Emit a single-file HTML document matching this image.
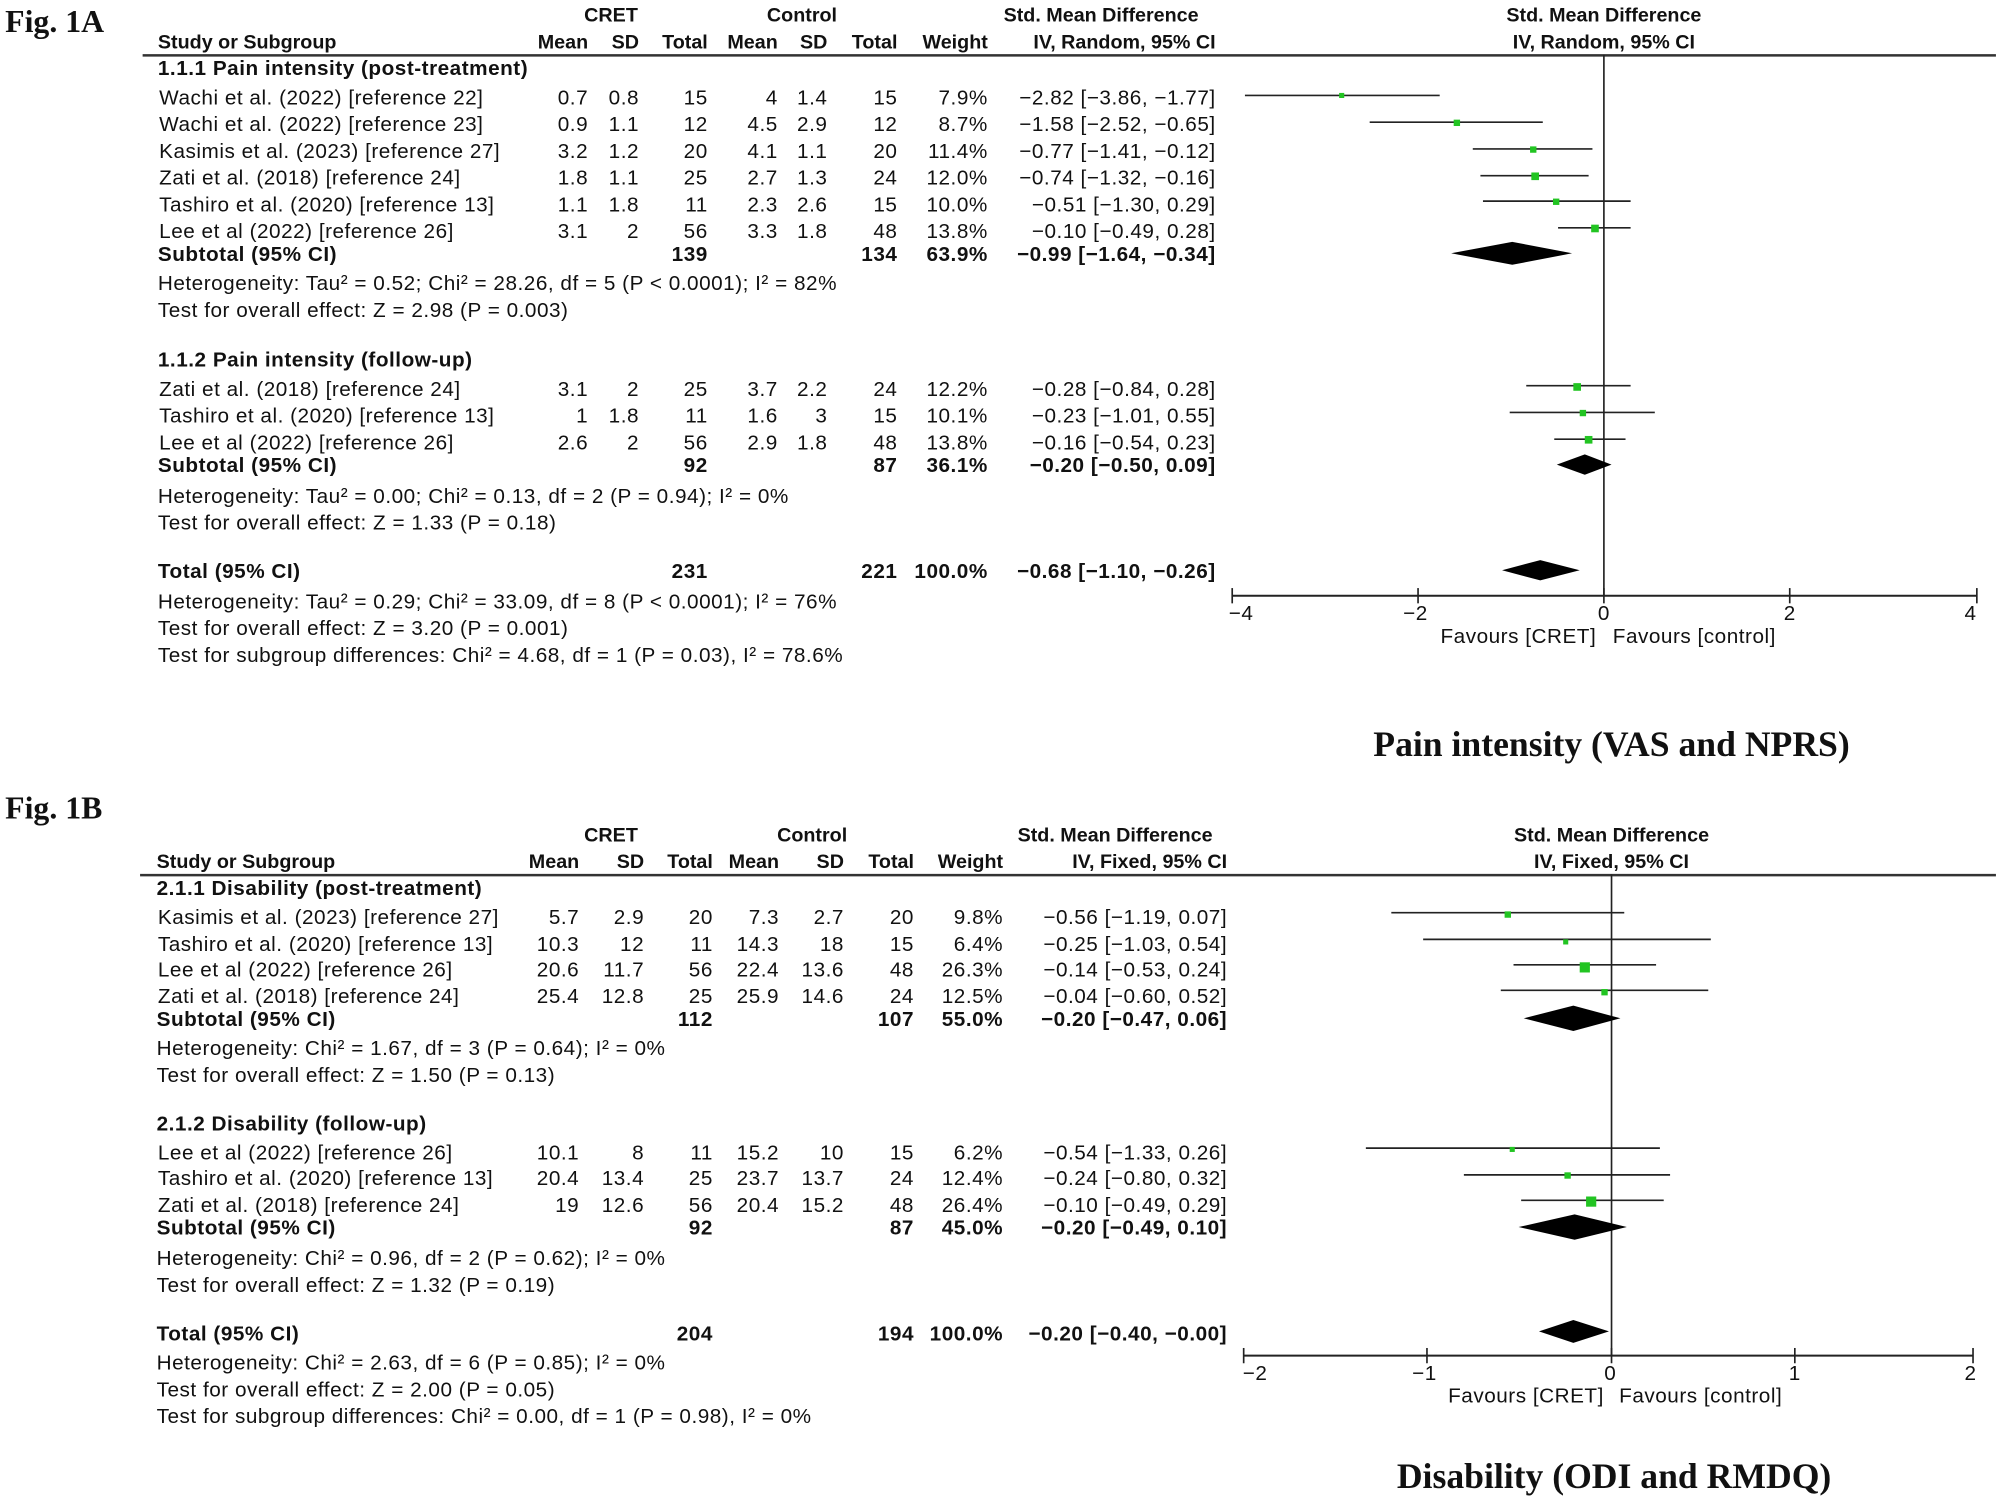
<!DOCTYPE html>
<html><head><meta charset="utf-8"><style>
html,body{margin:0;padding:0;background:#fff;}
svg{display:block;}
text{font-family:"Liberation Sans Narrow","Liberation Sans",sans-serif;font-size:16.3px;letter-spacing:0.4px;fill:#111;}
.h{font-size:15.5px;letter-spacing:0;}
.b{font-weight:bold;}
.e{text-anchor:end;}
.m{text-anchor:middle;}
.t{font-family:"Liberation Serif",serif;font-weight:bold;font-size:28px;letter-spacing:0;}
.f{font-family:"Liberation Serif",serif;font-weight:bold;font-size:25px;letter-spacing:0;}
</style></head><body>
<svg width="1996" height="1502" viewBox="0 0 1568 1180" xmlns="http://www.w3.org/2000/svg">
<!-- ================= FIG 1A ================= -->
<text x="4" y="25" class="f">Fig. 1A</text>
<text x="480" y="17" class="b m h">CRET</text>
<text x="630" y="17" class="b m h">Control</text>
<text x="865" y="17" class="b m h">Std. Mean Difference</text>
<text x="1260" y="17" class="b m h">Std. Mean Difference</text>
<text x="124" y="38" class="b h">Study or Subgroup</text>
<text x="462" y="38" class="b e h">Mean</text>
<text x="502" y="38" class="b e h">SD</text>
<text x="556" y="38" class="b e h">Total</text>
<text x="611" y="38" class="b e h">Mean</text>
<text x="650" y="38" class="b e h">SD</text>
<text x="705" y="38" class="b e h">Total</text>
<text x="776" y="38" class="b e h">Weight</text>
<text x="955" y="38" class="b e h">IV, Random, 95% CI</text>
<text x="1260" y="38" class="b m h">IV, Random, 95% CI</text>
<line x1="112" y1="43.5" x2="1568" y2="43.5" stroke="#333" stroke-width="2"/>
<text x="124" y="59" class="b">1.1.1 Pain intensity (post-treatment)</text>
<g>
<text x="125" y="82">Wachi et al. (2022) [reference 22]</text><text x="462" y="82" class="e">0.7</text><text x="502" y="82" class="e">0.8</text><text x="556" y="82" class="e">15</text><text x="611" y="82" class="e">4</text><text x="650" y="82" class="e">1.4</text><text x="705" y="82" class="e">15</text><text x="776" y="82" class="e">7.9%</text><text x="955" y="82" class="e">−2.82 [−3.86, −1.77]</text>
<text x="125" y="103">Wachi et al. (2022) [reference 23]</text><text x="462" y="103" class="e">0.9</text><text x="502" y="103" class="e">1.1</text><text x="556" y="103" class="e">12</text><text x="611" y="103" class="e">4.5</text><text x="650" y="103" class="e">2.9</text><text x="705" y="103" class="e">12</text><text x="776" y="103" class="e">8.7%</text><text x="955" y="103" class="e">−1.58 [−2.52, −0.65]</text>
<text x="125" y="124">Kasimis et al. (2023) [reference 27]</text><text x="462" y="124" class="e">3.2</text><text x="502" y="124" class="e">1.2</text><text x="556" y="124" class="e">20</text><text x="611" y="124" class="e">4.1</text><text x="650" y="124" class="e">1.1</text><text x="705" y="124" class="e">20</text><text x="776" y="124" class="e">11.4%</text><text x="955" y="124" class="e">−0.77 [−1.41, −0.12]</text>
<text x="125" y="145">Zati et al. (2018) [reference 24]</text><text x="462" y="145" class="e">1.8</text><text x="502" y="145" class="e">1.1</text><text x="556" y="145" class="e">25</text><text x="611" y="145" class="e">2.7</text><text x="650" y="145" class="e">1.3</text><text x="705" y="145" class="e">24</text><text x="776" y="145" class="e">12.0%</text><text x="955" y="145" class="e">−0.74 [−1.32, −0.16]</text>
<text x="125" y="166">Tashiro et al. (2020) [reference 13]</text><text x="462" y="166" class="e">1.1</text><text x="502" y="166" class="e">1.8</text><text x="556" y="166" class="e">11</text><text x="611" y="166" class="e">2.3</text><text x="650" y="166" class="e">2.6</text><text x="705" y="166" class="e">15</text><text x="776" y="166" class="e">10.0%</text><text x="955" y="166" class="e">−0.51 [−1.30, 0.29]</text>
<text x="125" y="187">Lee et al (2022) [reference 26]</text><text x="462" y="187" class="e">3.1</text><text x="502" y="187" class="e">2</text><text x="556" y="187" class="e">56</text><text x="611" y="187" class="e">3.3</text><text x="650" y="187" class="e">1.8</text><text x="705" y="187" class="e">48</text><text x="776" y="187" class="e">13.8%</text><text x="955" y="187" class="e">−0.10 [−0.49, 0.28]</text>
<text x="124" y="205" class="b">Subtotal (95% CI)</text><text x="556" y="205" class="b e">139</text><text x="705" y="205" class="b e">134</text><text x="776" y="205" class="b e">63.9%</text><text x="955" y="205" class="b e">−0.99 [−1.64, −0.34]</text>
<text x="124" y="228">Heterogeneity: Tau² = 0.52; Chi² = 28.26, df = 5 (P &lt; 0.0001); I² = 82%</text>
<text x="124" y="249">Test for overall effect: Z = 2.98 (P = 0.003)</text>
<text x="124" y="288" class="b">1.1.2 Pain intensity (follow-up)</text>
<text x="125" y="311">Zati et al. (2018) [reference 24]</text><text x="462" y="311" class="e">3.1</text><text x="502" y="311" class="e">2</text><text x="556" y="311" class="e">25</text><text x="611" y="311" class="e">3.7</text><text x="650" y="311" class="e">2.2</text><text x="705" y="311" class="e">24</text><text x="776" y="311" class="e">12.2%</text><text x="955" y="311" class="e">−0.28 [−0.84, 0.28]</text>
<text x="125" y="332">Tashiro et al. (2020) [reference 13]</text><text x="462" y="332" class="e">1</text><text x="502" y="332" class="e">1.8</text><text x="556" y="332" class="e">11</text><text x="611" y="332" class="e">1.6</text><text x="650" y="332" class="e">3</text><text x="705" y="332" class="e">15</text><text x="776" y="332" class="e">10.1%</text><text x="955" y="332" class="e">−0.23 [−1.01, 0.55]</text>
<text x="125" y="353">Lee et al (2022) [reference 26]</text><text x="462" y="353" class="e">2.6</text><text x="502" y="353" class="e">2</text><text x="556" y="353" class="e">56</text><text x="611" y="353" class="e">2.9</text><text x="650" y="353" class="e">1.8</text><text x="705" y="353" class="e">48</text><text x="776" y="353" class="e">13.8%</text><text x="955" y="353" class="e">−0.16 [−0.54, 0.23]</text>
<text x="124" y="371" class="b">Subtotal (95% CI)</text><text x="556" y="371" class="b e">92</text><text x="705" y="371" class="b e">87</text><text x="776" y="371" class="b e">36.1%</text><text x="955" y="371" class="b e">−0.20 [−0.50, 0.09]</text>
<text x="124" y="395">Heterogeneity: Tau² = 0.00; Chi² = 0.13, df = 2 (P = 0.94); I² = 0%</text>
<text x="124" y="416">Test for overall effect: Z = 1.33 (P = 0.18)</text>
<text x="124" y="454" class="b">Total (95% CI)</text><text x="556" y="454" class="b e">231</text><text x="705" y="454" class="b e">221</text><text x="776" y="454" class="b e">100.0%</text><text x="955" y="454" class="b e">−0.68 [−1.10, −0.26]</text>
<text x="124" y="478">Heterogeneity: Tau² = 0.29; Chi² = 33.09, df = 8 (P &lt; 0.0001); I² = 76%</text>
<text x="124" y="499">Test for overall effect: Z = 3.20 (P = 0.001)</text>
<text x="124" y="520">Test for subgroup differences: Chi² = 4.68, df = 1 (P = 0.03), I² = 78.6%</text>
</g>
<g stroke="#222" stroke-width="1.3">
<line x1="1260" y1="43" x2="1260" y2="468"/>
<line x1="968" y1="468" x2="1553" y2="468" stroke-width="1.6"/>
<line x1="968" y1="462" x2="968" y2="474"/><line x1="1114" y1="462" x2="1114" y2="474"/><line x1="1260" y1="462" x2="1260" y2="474"/><line x1="1406" y1="462" x2="1406" y2="474"/><line x1="1553" y1="462" x2="1553" y2="474"/>
<line x1="978" y1="75" x2="1131" y2="75"/>
<line x1="1076" y1="96" x2="1212" y2="96"/>
<line x1="1157" y1="117" x2="1251" y2="117"/>
<line x1="1163" y1="138" x2="1248" y2="138"/>
<line x1="1165" y1="158" x2="1281" y2="158"/>
<line x1="1224" y1="179" x2="1281" y2="179"/>
<line x1="1199" y1="303" x2="1281" y2="303"/>
<line x1="1186" y1="324" x2="1300" y2="324"/>
<line x1="1221" y1="345" x2="1277" y2="345"/>
</g>
<g fill="#22c422">
<rect x="1052" y="73" width="4" height="4"/>
<rect x="1142" y="94" width="5" height="5"/>
<rect x="1202" y="115" width="5" height="5"/>
<rect x="1203" y="135.5" width="6" height="6"/>
<rect x="1220" y="156" width="5" height="5"/>
<rect x="1250" y="176.5" width="6" height="6"/>
<rect x="1236" y="301" width="6" height="6"/>
<rect x="1241" y="322" width="5" height="5"/>
<rect x="1245" y="342.5" width="6" height="6"/>
</g>
<g fill="#000">
<polygon points="1140,199 1188,190 1235,199 1188,208"/>
<polygon points="1223,365 1245,357 1266,365 1245,373"/>
<polygon points="1180,448 1210,440 1241,448 1210,456"/>
</g>
<text x="975" y="487" class="m">−4</text><text x="1112" y="487" class="m">−2</text><text x="1260" y="487" class="m">0</text><text x="1406" y="487" class="m">2</text><text x="1548" y="487" class="m">4</text>
<text x="1254" y="505" class="e">Favours [CRET]</text><text x="1267" y="505">Favours [control]</text>
<text x="1266" y="594" class="t m">Pain intensity (VAS and NPRS)</text>

<!-- ================= FIG 1B ================= -->
<text x="4" y="643" class="f">Fig. 1B</text>
<text x="480" y="661" class="b m h">CRET</text>
<text x="638" y="661" class="b m h">Control</text>
<text x="876" y="661" class="b m h">Std. Mean Difference</text>
<text x="1266" y="661" class="b m h">Std. Mean Difference</text>
<text x="123" y="682" class="b h">Study or Subgroup</text>
<text x="455" y="682" class="b e h">Mean</text>
<text x="506" y="682" class="b e h">SD</text>
<text x="560" y="682" class="b e h">Total</text>
<text x="612" y="682" class="b e h">Mean</text>
<text x="663" y="682" class="b e h">SD</text>
<text x="718" y="682" class="b e h">Total</text>
<text x="788" y="682" class="b e h">Weight</text>
<text x="964" y="682" class="b e h">IV, Fixed, 95% CI</text>
<text x="1266" y="682" class="b m h">IV, Fixed, 95% CI</text>
<line x1="110" y1="687.5" x2="1568" y2="687.5" stroke="#333" stroke-width="2"/>
<text x="123" y="703" class="b">2.1.1 Disability (post-treatment)</text>
<text x="124" y="726">Kasimis et al. (2023) [reference 27]</text><text x="455" y="726" class="e">5.7</text><text x="506" y="726" class="e">2.9</text><text x="560" y="726" class="e">20</text><text x="612" y="726" class="e">7.3</text><text x="663" y="726" class="e">2.7</text><text x="718" y="726" class="e">20</text><text x="788" y="726" class="e">9.8%</text><text x="964" y="726" class="e">−0.56 [−1.19, 0.07]</text>
<text x="124" y="747">Tashiro et al. (2020) [reference 13]</text><text x="455" y="747" class="e">10.3</text><text x="506" y="747" class="e">12</text><text x="560" y="747" class="e">11</text><text x="612" y="747" class="e">14.3</text><text x="663" y="747" class="e">18</text><text x="718" y="747" class="e">15</text><text x="788" y="747" class="e">6.4%</text><text x="964" y="747" class="e">−0.25 [−1.03, 0.54]</text>
<text x="124" y="767">Lee et al (2022) [reference 26]</text><text x="455" y="767" class="e">20.6</text><text x="506" y="767" class="e">11.7</text><text x="560" y="767" class="e">56</text><text x="612" y="767" class="e">22.4</text><text x="663" y="767" class="e">13.6</text><text x="718" y="767" class="e">48</text><text x="788" y="767" class="e">26.3%</text><text x="964" y="767" class="e">−0.14 [−0.53, 0.24]</text>
<text x="124" y="788">Zati et al. (2018) [reference 24]</text><text x="455" y="788" class="e">25.4</text><text x="506" y="788" class="e">12.8</text><text x="560" y="788" class="e">25</text><text x="612" y="788" class="e">25.9</text><text x="663" y="788" class="e">14.6</text><text x="718" y="788" class="e">24</text><text x="788" y="788" class="e">12.5%</text><text x="964" y="788" class="e">−0.04 [−0.60, 0.52]</text>
<text x="123" y="806" class="b">Subtotal (95% CI)</text><text x="560" y="806" class="b e">112</text><text x="718" y="806" class="b e">107</text><text x="788" y="806" class="b e">55.0%</text><text x="964" y="806" class="b e">−0.20 [−0.47, 0.06]</text>
<text x="123" y="829">Heterogeneity: Chi² = 1.67, df = 3 (P = 0.64); I² = 0%</text>
<text x="123" y="850">Test for overall effect: Z = 1.50 (P = 0.13)</text>
<text x="123" y="888" class="b">2.1.2 Disability (follow-up)</text>
<text x="124" y="911">Lee et al (2022) [reference 26]</text><text x="455" y="911" class="e">10.1</text><text x="506" y="911" class="e">8</text><text x="560" y="911" class="e">11</text><text x="612" y="911" class="e">15.2</text><text x="663" y="911" class="e">10</text><text x="718" y="911" class="e">15</text><text x="788" y="911" class="e">6.2%</text><text x="964" y="911" class="e">−0.54 [−1.33, 0.26]</text>
<text x="124" y="931">Tashiro et al. (2020) [reference 13]</text><text x="455" y="931" class="e">20.4</text><text x="506" y="931" class="e">13.4</text><text x="560" y="931" class="e">25</text><text x="612" y="931" class="e">23.7</text><text x="663" y="931" class="e">13.7</text><text x="718" y="931" class="e">24</text><text x="788" y="931" class="e">12.4%</text><text x="964" y="931" class="e">−0.24 [−0.80, 0.32]</text>
<text x="124" y="952">Zati et al. (2018) [reference 24]</text><text x="455" y="952" class="e">19</text><text x="506" y="952" class="e">12.6</text><text x="560" y="952" class="e">56</text><text x="612" y="952" class="e">20.4</text><text x="663" y="952" class="e">15.2</text><text x="718" y="952" class="e">48</text><text x="788" y="952" class="e">26.4%</text><text x="964" y="952" class="e">−0.10 [−0.49, 0.29]</text>
<text x="123" y="970" class="b">Subtotal (95% CI)</text><text x="560" y="970" class="b e">92</text><text x="718" y="970" class="b e">87</text><text x="788" y="970" class="b e">45.0%</text><text x="964" y="970" class="b e">−0.20 [−0.49, 0.10]</text>
<text x="123" y="994">Heterogeneity: Chi² = 0.96, df = 2 (P = 0.62); I² = 0%</text>
<text x="123" y="1015">Test for overall effect: Z = 1.32 (P = 0.19)</text>
<text x="123" y="1053" class="b">Total (95% CI)</text><text x="560" y="1053" class="b e">204</text><text x="718" y="1053" class="b e">194</text><text x="788" y="1053" class="b e">100.0%</text><text x="964" y="1053" class="b e">−0.20 [−0.40, −0.00]</text>
<text x="123" y="1076">Heterogeneity: Chi² = 2.63, df = 6 (P = 0.85); I² = 0%</text>
<text x="123" y="1097">Test for overall effect: Z = 2.00 (P = 0.05)</text>
<text x="123" y="1118">Test for subgroup differences: Chi² = 0.00, df = 1 (P = 0.98), I² = 0%</text>
<g stroke="#222" stroke-width="1.3">
<line x1="1266" y1="687" x2="1266" y2="1065"/>
<line x1="977" y1="1065" x2="1550" y2="1065" stroke-width="1.6"/>
<line x1="977" y1="1059" x2="977" y2="1071"/><line x1="1121" y1="1059" x2="1121" y2="1071"/><line x1="1266" y1="1059" x2="1266" y2="1071"/><line x1="1410" y1="1059" x2="1410" y2="1071"/><line x1="1550" y1="1059" x2="1550" y2="1071"/>
<line x1="1093" y1="717" x2="1276" y2="717"/>
<line x1="1118" y1="738" x2="1344" y2="738"/>
<line x1="1189" y1="758" x2="1301" y2="758"/>
<line x1="1179" y1="778" x2="1342" y2="778"/>
<line x1="1073" y1="902" x2="1304" y2="902"/>
<line x1="1150" y1="923" x2="1312" y2="923"/>
<line x1="1195" y1="943" x2="1307" y2="943"/>
</g>
<g fill="#22c422">
<rect x="1182" y="716" width="5" height="5"/>
<rect x="1228" y="738" width="4" height="4"/>
<rect x="1241" y="756" width="8" height="8"/>
<rect x="1258" y="777" width="5" height="5"/>
<rect x="1186" y="901" width="4" height="4"/>
<rect x="1229" y="921" width="5" height="5"/>
<rect x="1246" y="940" width="8" height="8"/>
</g>
<g fill="#000">
<polygon points="1197,800 1236,790 1273,800 1236,810"/>
<polygon points="1193,964 1237,954 1278,964 1237,974"/>
<polygon points="1209,1046 1236,1037 1264,1046 1236,1055"/>
</g>
<text x="986" y="1084" class="m">−2</text><text x="1119" y="1084" class="m">−1</text><text x="1265" y="1084" class="m">0</text><text x="1410" y="1084" class="m">1</text><text x="1548" y="1084" class="m">2</text>
<text x="1260" y="1102" class="e">Favours [CRET]</text><text x="1272" y="1102">Favours [control]</text>
<text x="1268" y="1169" class="t m">Disability (ODI and RMDQ)</text>
</svg>
</body></html>
